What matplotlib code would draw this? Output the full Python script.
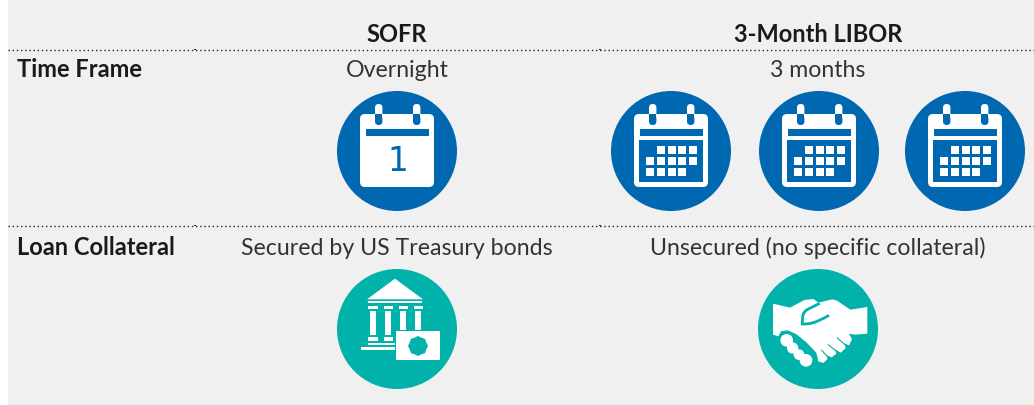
import math
import matplotlib
matplotlib.use("Agg")
import matplotlib.pyplot as plt
from matplotlib.patches import Circle, Rectangle, FancyBboxPatch, Polygon, PathPatch
from matplotlib.path import Path

columns = ["SOFR", "3-Month LIBOR"]
rows = ["Time Frame", "Loan Collateral"]
time_frame = ["Overnight", "3 months"]
collateral = ["Secured by US Treasury bonds", "Unsecured (no specific collateral)"]
calendar_counts = [1, 3]

BG = "#f0f0f0"
BLUE = "#0067b1"
TEAL = "#00b2a9"
WHITE = "#ffffff"
FONT = "Lato"

fig = plt.figure(figsize=(10.34, 4.05), dpi=100, facecolor="white")
ax = fig.add_axes([0, 0, 1, 1])
ax.set_xlim(0, 1034)
ax.set_ylim(405, 0)
ax.axis("off")
ax.add_patch(Rectangle((8, 0), 1026, 405, fc=BG, ec="none"))

for y in (49.5, 225.5):
    ax.plot([8, 1034], [y, y], color="#222222", lw=1.0, dashes=(1, 2), dash_capstyle="butt")
    for x in (195, 600):
        ax.add_patch(Rectangle((x - 1, y - 0.6), 2, 1.2, fc="#222222", ec="none"))


def txt(x, y, s, weight="normal", ha="center", color="#333333"):
    size = 17.0 if weight == "bold" else 16.7
    ax.text(x, y, s, fontsize=size, family=FONT, weight=weight, ha=ha, va="baseline", color=color)


COLX = [397, 818]
for x, s in zip(COLX, columns):
    txt(x, 42, s, "bold", color="#1a1a1a")
for y, s in zip((77, 255), rows):
    txt(17, y, s, "bold", ha="left", color="#1a1a1a")
for x, s in zip(COLX, time_frame):
    txt(x, 77, s)
for x, s in zip(COLX, collateral):
    txt(x, 255, s)


def rbox(x0, y0, x1, y1, r, fc):
    ax.add_patch(FancyBboxPatch((x0 + r, y0 + r), x1 - x0 - 2 * r, y1 - y0 - 2 * r,
                                boxstyle=f"round,pad={r},rounding_size={r}", fc=fc, ec="none"))


def rings(cx, cy):
    for dx in (-18.3, 19.7):
        rbox(cx + dx - 3.7, cy - 47, cx + dx + 3.7, cy - 26, 3.7, WHITE)
        rbox(cx + dx - 3.7, cy - 36, cx + dx + 3.7, cy - 26, 3.7, BLUE)
        ax.add_patch(Rectangle((cx + dx - 3.7, cy - 37), 7.4, 5, fc=BLUE, ec="none"))


def calendar_one(cx, cy):
    ax.add_patch(Circle((cx, cy), 60, fc=BLUE, ec="none"))
    rbox(cx - 37, cy - 37, cx + 37, cy + 36, 5, WHITE)
    rings(cx, cy)
    ax.add_patch(Rectangle((cx - 31, cy - 22), 63, 7, fc=BLUE, ec="none"))
    ax.text(cx + 0.5, cy + 20, "1", fontsize=23.5, family="DejaVu Sans",
            color=BLUE, ha="center", va="baseline")


def calendar_grid(cx, cy):
    ax.add_patch(Circle((cx, cy), 60, fc=BLUE, ec="none"))
    rbox(cx - 37, cy - 37, cx + 37, cy + 36, 5, WHITE)
    rings(cx, cy)
    ax.add_patch(Rectangle((cx - 31.5, cy - 22), 63.5, 7, fc=BLUE, ec="none"))
    ax.add_patch(Rectangle((cx - 32.5, cy - 11), 64.5, 41.5, fc=BLUE, ec="none"))
    col_dx = [-25.5, -14.5, -3.5, 6.5, 17.5]
    row_dy = [-5, 6, 17]
    active = [[1, 2, 3, 4], [0, 1, 2, 3, 4], [0, 1, 2, 3]]
    for dy, cols in zip(row_dy, active):
        for c in cols:
            ax.add_patch(Rectangle((cx + col_dx[c], cy + dy), 8, 8, fc=WHITE, ec="none"))


def bank(cx, cy):
    ax.add_patch(Circle((cx, cy), 60, fc=TEAL, ec="none"))
    ox, oy, z = 215, 191, 3.0

    def r(x0, y0, x1, y1, fc=WHITE):
        ax.add_patch(Rectangle((cx + (x0 - ox) / z, cy + (y0 - oy) / z), (x1 - x0) / z, (y1 - y0) / z,
                               fc=fc, ec="none"))

    ax.add_patch(Polygon([(cx + (x - ox) / z, cy + (y - oy) / z) for x, y in
                          [(209, 40), (293, 102), (125, 102)]], fc=WHITE, ec="none"))
    r(129, 108, 291, 114)
    for x0, x1, s0, s1, lo in [(129, 157, 135, 152, 210), (175, 203, 180, 197, 210),
                               (220, 247, 225, 241, 195), (265, 292, 270, 287, 195)]:
        r(x0, 121, x1, 132)
        r(s0, 137, s1, lo)
    r(129, 215, 157, 227)
    r(175, 215, 203, 227)
    r(129, 232, 208, 240)
    r(108, 245, 208, 253)
    r(211, 197, 345, 284)
    pts = []
    for i in range(16):
        a = i * math.pi / 8
        rad = 30 if i % 2 == 0 else 27
        pts.append((cx + (278 - ox + rad * math.cos(a)) / z, cy + (242 - oy + rad * math.sin(a)) / z))
    ax.add_patch(Polygon(pts, fc=TEAL, ec="none"))


def handshake(cx, cy):
    ax.add_patch(Circle((cx, cy), 60, fc=TEAL, ec="none"))
    ox, oy, z = 219, 191, 3.0

    def P(x, y):
        return (cx + (x - ox) / z, cy + (y - oy) / z)

    body = [(84, 115), (135, 127), (178, 104), (205, 101), (220, 112), (262, 102), (276, 106),
            (316, 133), (367, 125), (367, 205), (330, 208), (312, 205), (321, 222), (312, 240),
            (298, 234), (302, 248), (287, 262), (270, 252), (274, 265), (260, 276), (245, 270),
            (247, 282), (235, 293), (220, 288), (214, 262), (185, 232), (155, 207), (128, 195),
            (108, 198), (100, 213), (84, 208)]
    ax.add_patch(Polygon([P(*p) for p in body], fc=WHITE, ec="none"))
    for x, y, rad in [(125, 225, 19), (143, 248, 17), (162, 268, 16), (183, 285, 19)]:
        ax.add_patch(Circle(P(x, y), rad / z, fc=WHITE, ec="none"))
    verts = [P(224, 114), P(190, 131), P(172, 140), P(172, 155), P(172, 176), P(192, 176), P(206, 176),
             P(252, 150)]
    codes = [Path.MOVETO, Path.LINETO, Path.CURVE4, Path.CURVE4, Path.CURVE4, Path.CURVE4, Path.CURVE4,
             Path.LINETO]
    ax.add_patch(PathPatch(Path(verts, codes), fc="none", ec=TEAL, lw=2.0, capstyle="butt"))
    for a, b in [((230, 255), (246, 272)), ((250, 238), (272, 256)), ((277, 218), (300, 238))]:
        ax.plot(*zip(P(*a), P(*b)), color=TEAL, lw=0.8)


calendar_one(397, 151)
for cx in (671, 819, 965):
    calendar_grid(cx, 151)
bank(397, 329)
handshake(818, 329)

fig.savefig("out.png", dpi=100, facecolor=fig.get_facecolor())
